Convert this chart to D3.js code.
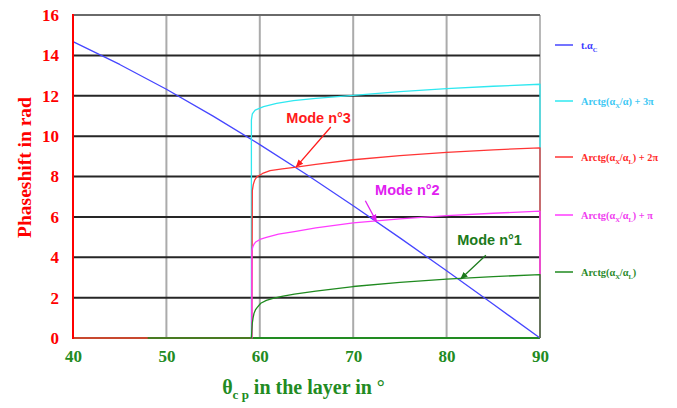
<!DOCTYPE html>
<html>
<head>
<meta charset="utf-8">
<script src="https://cdn.jsdelivr.net/npm/d3@7"></script>
<style>
  body { margin: 0; background: #fff; }
  svg text { font-family: "Liberation Serif", "Times New Roman", serif; font-weight: bold; }
  .mode { font-family: "Liberation Sans", Arial, sans-serif; }
</style>
</head>
<body>
<svg id="chart" width="677" height="408"></svg>
<script>
// values
const xTicks = [40, 50, 60, 70, 80, 90];
const yTicks = [0, 2, 4, 6, 8, 10, 12, 14, 16];

// t.alpha_c
const blueX = [40, 45, 50, 55, 60, 65, 70, 75, 80, 85, 90];
const blueY = [14.68, 13.55, 12.32, 10.99, 9.58, 8.1, 6.55, 4.96, 3.33, 1.67, 0];

// Arctg + 3pi
const cyanX = [59, 59.1, 59.1, 59.2, 59.5, 60.4, 61.8, 63.6, 66, 70, 75, 80, 85, 90, 90];
const cyanY = [0, 0, 10.8, 11.1, 11.29, 11.46, 11.62, 11.76, 11.87, 12.02, 12.2, 12.35, 12.47, 12.57, 0];

// Arctg + 2pi
const redX = [40, 59.15, 59.2, 59.3, 59.45, 59.7, 60.3, 61.1, 62.4, 63.7, 66, 70, 75, 80, 85, 90, 90];
const redY = [0, 0, 7.3, 7.6, 7.82, 7.99, 8.15, 8.29, 8.38, 8.45, 8.6, 8.83, 9.03, 9.2, 9.32, 9.42, 0];

// Arctg + pi
const pinkX = [59, 59.15, 59.15, 59.25, 59.4, 59.6, 60.1, 60.7, 62, 63.7, 66, 70, 75, 80, 85, 90, 90];
const pinkY = [0, 0, 4.3, 4.52, 4.66, 4.77, 4.9, 4.99, 5.15, 5.27, 5.45, 5.7, 5.9, 6.06, 6.18, 6.28, 0];

// Arctg
const greenX = [48, 59.1, 59.15, 59.2, 59.28, 59.38, 59.53, 59.73, 60.1, 60.7, 61.5, 62.5, 63.7, 66, 70, 75, 80, 85, 90, 90];
const greenY = [0, 0, 0.4, 0.75, 1.0, 1.22, 1.39, 1.52, 1.72, 1.86, 1.97, 2.07, 2.17, 2.32, 2.55, 2.76, 2.92, 3.04, 3.14, 0];

const seriesNames = ["blue", "cyan", "red", "pink", "green"];
const seriesColors = ["#4646ff", "#2fe8f0", "#ff3535", "#ff3cff", "#1f8a1f"];
const legendColors = ["#3a3aff", "#3cc8f4", "#ff2a2a", "#f03cf0", "#2a8a2a"];

const svg = d3.select("#chart");
const margin = {left: 73, right: 137, top: 15, bottom: 70};
const W = 677, H = 408;

let x = d3.scaleLinear().domain([40, 90]).range([margin.left, W - margin.right]);
let y = d3.scaleLinear().domain([0, 16]).range([H - margin.bottom, margin.top]);

const red = "#ff0000", green = "#228b22";

// grid
let grid = svg.append("g");
grid.selectAll("line.v")
  .data(xTicks.slice(1))
  .join("line")
  .attr("x1", d => x(d)).attr("x2", d => x(d))
  .attr("y1", y(16)).attr("y2", y(0))
  .attr("stroke", d => d == 90 ? "#b8b8b8" : "#ababab")
  .attr("stroke-width", 2);
grid.selectAll("line.h")
  .data(yTicks.slice(1))
  .join("line")
  .attr("x1", x(40)).attr("x2", x(90))
  .attr("y1", d => y(d)).attr("y2", d => y(d))
  .attr("stroke", d => d == 16 ? "#6a6a6a" : "#262626")
  .attr("stroke-width", 2);

// axes lines
svg.append("line")
  .attr("x1", x(40)).attr("x2", x(90))
  .attr("y1", y(0)).attr("y2", y(0))
  .attr("stroke", green).attr("stroke-width", 2);

// series
let line = d3.line().x(d => x(d[0])).y(d => y(d[1]));
let allSeries = [
  d3.zip(blueX, blueY),
  d3.zip(cyanX, cyanY),
  d3.zip(redX, redY),
  d3.zip(pinkX, pinkY),
  d3.zip(greenX, greenY)
];
svg.append("g").selectAll("path")
  .data(allSeries)
  .join("path")
  .attr("fill", "none")
  .attr("stroke", (d, i) => seriesColors[i])
  .attr("stroke-width", 1.3)
  .attr("stroke-linejoin", "round")
  .attr("d", line);

svg.append("line")
  .attr("x1", x(40)).attr("x2", x(40))
  .attr("y1", y(16) - 1).attr("y2", y(0) + 1)
  .attr("stroke", red).attr("stroke-width", 2);

// tick labels
let yAxis = d3.axisLeft(y).tickValues(yTicks).tickSize(0).tickPadding(14);
let gy = svg.append("g").attr("transform", `translate(${x(40)},0)`).call(yAxis);
gy.select(".domain").remove();
gy.selectAll("text")
  .attr("fill", red)
  .attr("font-size", 17)
  .attr("font-family", "Liberation Serif")
  .attr("font-weight", "bold");

let xAxis = d3.axisBottom(x).tickValues(xTicks).tickSize(0).tickPadding(12);
let gx = svg.append("g").attr("transform", `translate(0,${y(0)})`).call(xAxis);
gx.select(".domain").remove();
gx.selectAll("text")
  .attr("fill", green)
  .attr("font-size", 17)
  .attr("font-family", "Liberation Serif")
  .attr("font-weight", "bold");

// axis titles
svg.append("text")
  .attr("transform", `translate(31,${(y(0) + y(16)) / 2 - 9}) rotate(-90)`)
  .attr("text-anchor", "middle")
  .attr("fill", red)
  .attr("font-size", 19.5)
  .text("Phaseshift in rad");

let xt = svg.append("text")
  .attr("x", (x(40) + x(90)) / 2 - 3)
  .attr("y", 394)
  .attr("text-anchor", "middle")
  .attr("fill", green)
  .attr("font-size", 20);
xt.append("tspan").text("\u03b8");
xt.append("tspan").attr("font-size", 13).attr("dy", 5).text("c p");
xt.append("tspan").attr("dy", -5).text(" in the layer in \u00b0");

// mode annotations
const modeNames = ["Mode n\u00b03", "Mode n\u00b02", "Mode n\u00b01"];
const modeColors = ["#ff1a1a", "#e020f0", "#1b7a1b"];
const modeLabelPos = [[66.3, 10.65], [75.8, 7.1], [84.6, 4.6]];
const modeTail = [[67.6, 10.45], [71.3, 6.8], [84.2, 4.1]];
const modeHead = [[63.9, 8.48], [72.5, 5.76], [81.5, 2.92]];

let defs = svg.append("defs");
modeColors.forEach((c, i) => {
  defs.append("marker")
    .attr("id", "arr" + i)
    .attr("viewBox", "0 0 10 10")
    .attr("refX", 9).attr("refY", 5)
    .attr("markerWidth", 6).attr("markerHeight", 6)
    .attr("orient", "auto")
    .append("path")
    .attr("d", "M0,1 L10,5 L0,9 Z")
    .attr("fill", c);
});

let modes = svg.append("g");
modes.selectAll("line")
  .data(modeNames)
  .join("line")
  .attr("x1", (d, i) => x(modeTail[i][0])).attr("y1", (d, i) => y(modeTail[i][1]))
  .attr("x2", (d, i) => x(modeHead[i][0])).attr("y2", (d, i) => y(modeHead[i][1]))
  .attr("stroke", (d, i) => modeColors[i])
  .attr("stroke-width", 1.3)
  .attr("marker-end", (d, i) => `url(#arr${i})`);
modes.selectAll("text")
  .data(modeNames)
  .join("text")
  .attr("class", "mode")
  .attr("x", (d, i) => x(modeLabelPos[i][0]))
  .attr("y", (d, i) => y(modeLabelPos[i][1]))
  .attr("text-anchor", "middle")
  .attr("fill", (d, i) => modeColors[i])
  .attr("font-size", 14.5)
  .text(d => d);

// legend
const legendY = [45, 101, 157, 215, 272];
let legend = svg.append("g");
legend.selectAll("line")
  .data(seriesNames)
  .join("line")
  .attr("x1", 555).attr("x2", 573)
  .attr("y1", (d, i) => legendY[i]).attr("y2", (d, i) => legendY[i])
  .attr("stroke", (d, i) => seriesColors[i])
  .attr("stroke-width", 1.5);

const legendParts = [
  [["t.\u03b1", 0], ["C", 1]],
  [["Arctg(\u03b1", 0], ["X", 1], ["/\u03b1) + 3\u03c0", 0]],
  [["Arctg(\u03b1", 0], ["X", 1], ["/\u03b1", 0], ["L", 1], [") + 2\u03c0", 0]],
  [["Arctg(\u03b1", 0], ["X", 1], ["/\u03b1", 0], ["L", 1], [") + \u03c0", 0]],
  [["Arctg(\u03b1", 0], ["X", 1], ["/\u03b1", 0], ["L", 1], [")", 0]]
];
legendParts.forEach((parts, i) => {
  let t = legend.append("text")
    .attr("x", 581)
    .attr("y", legendY[i] + 3.5)
    .attr("fill", legendColors[i])
    .attr("font-size", 10.3);
  let prevSub = 0;
  parts.forEach(p => {
    let dy = (p[1] - prevSub) * 3;
    t.append("tspan")
      .attr("dy", dy)
      .attr("font-size", p[1] ? 6.5 : 10.3)
      .text(p[0]);
    prevSub = p[1];
  });
});
</script>
</body>
</html>
